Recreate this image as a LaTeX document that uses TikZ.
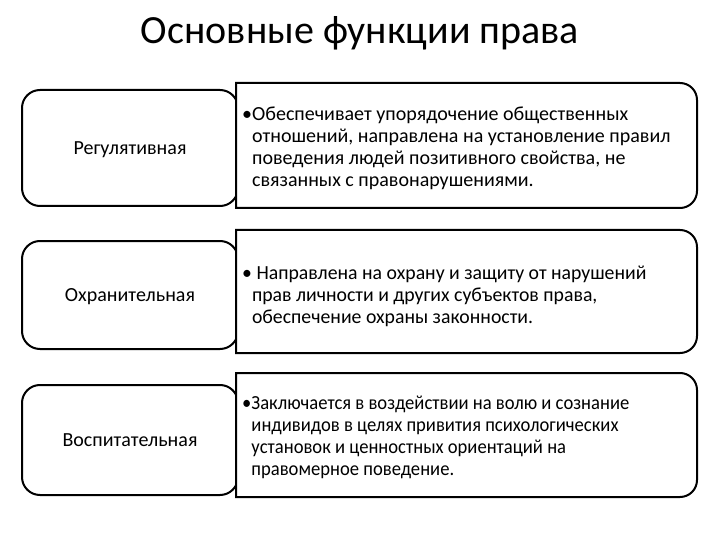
\documentclass[tikz,border=0pt]{standalone}
\usepackage{fontspec}
\usepackage{graphicx}
\setmainfont{Carlito}
\newcommand\rightbox[4]{%
  \draw[boxline,fill=white] (#1,#2) -- ({#3-17},#2) .. controls ({#3-7.6},#2) and (#3,{#2+7.6}) .. (#3,{#2+17})
    -- (#3,{#4-17}) .. controls (#3,{#4-7.6}) and ({#3-7.6},#4) .. ({#3-17},#4) -- (#1,#4) -- cycle;}
\newcommand\squeezed[2]{\scalebox{#1}[1]{\begin{tabular}{@{}l@{}}#2\end{tabular}}}
\begin{document}
\begin{tikzpicture}[x=1pt,y=-1pt,
  boxline/.style={line width=2pt,black},
  leftbox/.style={boxline,rounded corners=18pt,fill=white},
  label/.style={font=\fontsize{20}{22}\selectfont,anchor=center},
  body/.style={font=\fontsize{20}{22}\selectfont,anchor=north west,align=left,inner sep=0pt}]
\useasboundingbox (0,0) rectangle (720,540);
\node[font=\fontsize{40}{44}\selectfont] (title) at (360,33) {Основные функции права};
% row 1
\draw[leftbox] (22,90) rectangle (238,206);
\rightbox{236}{83}{697}{208}
\node[label] (l1) at (130,150) {Регулятивная};
\node[body] (t1) at (242,107) {•Обеспечивает упорядочение общественных\\
\phantom{•}отношений, направлена на установление правил\\
\phantom{•}поведения людей позитивного свойства, не\\
\phantom{•}связанных с правонарушениями.};
% row 2
\draw[leftbox] (22,241) rectangle (238,349);
\rightbox{236}{230}{697}{353}
\node[label] (l2) at (130,297) {Охранительная};
\node[body] (t2) at (242,264) {\squeezed{0.988}{• Направлена на охрану и защиту от нарушений\\
\phantom{•}прав личности и других субъектов права,\\
\phantom{•}обеспечение охраны законности.}};
% row 3
\draw[leftbox] (22,385) rectangle (238,495);
\rightbox{236}{373}{697}{497}
\node[label] (l3) at (130,440) {Воспитательная};
\node[body] (t3) at (242,394) {\squeezed{0.93}{•Заключается в воздействии на волю и сознание\\
\phantom{•}индивидов в целях привития психологических\\
\phantom{•}установок и ценностных ориентаций на\\
\phantom{•}правомерное поведение.}};
\end{tikzpicture}
\end{document}
